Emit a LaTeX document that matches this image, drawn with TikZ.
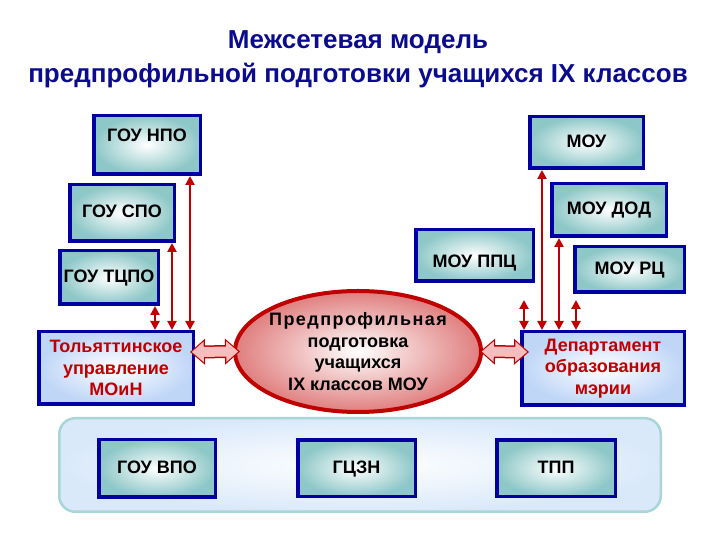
\documentclass[tikz,border=0pt]{standalone}
\usepackage{fontspec}
\setmainfont{Liberation Sans}
\usepackage{xcolor}
\usetikzlibrary{positioning,calc,arrows.meta,shapes.geometric}
\definecolor{MINnavy}{HTML}{0B0B8F}
\definecolor{MINblue}{HTML}{0000A0}
\definecolor{MINteal}{HTML}{8EC7C7}
\definecolor{MINred}{HTML}{C00000}
\definecolor{MINpink}{HTML}{E07E7E}
\definecolor{MINrose}{HTML}{F5BDBD}
\definecolor{MINsky}{HTML}{BFD6F7}
\definecolor{MINpanel}{HTML}{DAE9FA}
\definecolor{MINrim}{HTML}{A8D5D5}

\begin{document}
\begin{tikzpicture}[x=1pt, y=1pt,
  every node/.style={font=\bfseries\fontsize{18}{21.5}\selectfont, text=black, inner sep=1pt},
  org/.style ={draw=MINblue, line width=3.5pt, inner color=white, outer color=MINteal, align=center,
               text height=13pt, text depth=3pt},
  hub/.style ={draw=MINblue, line width=3.5pt, inner color=white, outer color=MINsky, align=center, text=MINred},
  core/.style={ellipse, draw=MINred, line width=4pt, inner color=white, outer color=MINpink,
               align=center, inner xsep=-14pt, minimum width=246pt, minimum height=121pt},
  link/.style={{Triangle[width=9pt,length=9pt]}-{Triangle[width=9pt,length=9pt]}, draw=MINred, line width=2.2pt},
  fatrim/.style={{Triangle[width=25pt,length=15pt]}-{Triangle[width=25pt,length=15pt]}, draw=MINred, line width=13pt},
  fatfill/.style={{Triangle[width=20pt,length=12pt]}-{Triangle[width=20pt,length=12pt]}, draw=MINrose,
                  line width=10pt, shorten <=1.8pt, shorten >=1.8pt}]
\useasboundingbox (0,0) rectangle (720,540);
\node[font=\bfseries\fontsize{26}{34}\selectfont, text=MINnavy, align=center] (title) at (358,481)
  {Межсетевая модель\\предпрофильной подготовки учащихся IX классов};
% нижняя панель
\node[draw=MINrim, line width=2.5pt, rounded corners=16pt, inner color=white, outer color=MINpanel,
      minimum width=601.5pt, minimum height=93.5pt] (panel) at (360,75) {};
\node[org, minimum width=116.5pt, minimum height=57.5pt] (vpo) at (157,71.5) {ГОУ ВПО};
\node[org, minimum width=117.5pt, minimum height=56.5pt, right=79pt of vpo] (czn) {ГЦЗН};
\node[org, minimum width=118.5pt, minimum height=56.5pt, right=78pt of czn] (tpp) {ТПП};
% левая колонка
\node[org, minimum width=106.5pt, minimum height=58.5pt, text depth=20pt] (npo) at (147,395) {ГОУ НПО};
\node[org, minimum width=104.5pt, minimum height=56.5pt] (spo)  at (122,327) {ГОУ СПО};
\node[org, minimum width=98.5pt,  minimum height=53.5pt] (tcpo) at (109,262.5) {ГОУ ТЦПО};
\node[hub, minimum width=154.5pt, minimum height=72.5pt] (tol)  at (116,172) {Тольяттинское\\управление\\МОиН};
% правая колонка
\node[org, minimum width=113.5pt, minimum height=51.5pt] (mou) at (586.5,397.5) {МОУ};
\node[org, minimum width=114.5pt, minimum height=52.5pt] (dod) at (609,330) {МОУ ДОД};
\node[org, minimum width=117.5pt, minimum height=51.5pt, text height=28pt] (ppc) at (474.5,284.5) {МОУ ППЦ};
\node[org, minimum width=109.5pt, minimum height=45.5pt] (rc)  at (629.5,270.5) {МОУ РЦ};
\node[hub, minimum width=162.5pt, minimum height=73.5pt] (dep) at (603,171.5) {Департамент\\образования\\мэрии};
% центр
\node[core] (ell) at (358,188.5)
  {{\addfontfeature{LetterSpace=8}Предпрофильная}\\подготовка\\учащихся\\IX классов МОУ};
\foreach \src/\dx in {npo/-12, spo/-4, tcpo/-5}
  \draw[link] ([xshift=\dx pt]\src.south east) -- ([xshift=\dx pt]\src.south east |- tol.north);
\foreach \src/\dx/\dy in {mou/14/0, dod/9/0, rc/3/-6}
  \draw[link] ([shift={(\dx,\dy)}]\src.south west) -- ([xshift=\dx pt]\src.south west |- dep.north);
\draw[link] ([shift={(-11,-17)}]ppc.south east) -- ([xshift=-11pt]ppc.south east |- dep.north);
\foreach \sty in {fatrim, fatfill} {
  \draw[\sty] ([shift={(-5,16)}]tol.east) -- ([xshift=7pt]ell.west);
  \draw[\sty] ([xshift=-3pt]ell.east) -- ([shift={(9,16.5)}]dep.west);
}
\end{tikzpicture}
\end{document}
